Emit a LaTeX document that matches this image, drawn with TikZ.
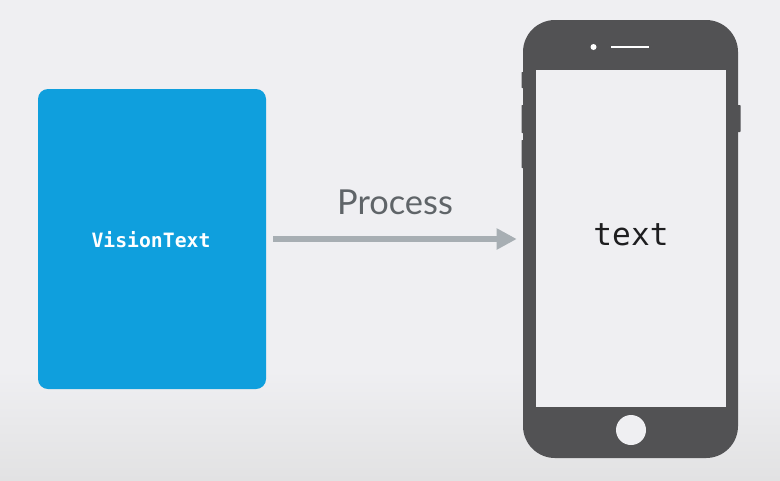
\documentclass[tikz,border=0pt]{standalone}
\usepackage{fontspec}
\setmainfont{Lato}
\newfontfamily\monofam{DejaVu Sans Mono}
\usetikzlibrary{arrows.meta}
\definecolor{bgc}{HTML}{EFEFF2}
\definecolor{bgb}{HTML}{E2E2E3}
\definecolor{cardc}{HTML}{0F9FDD}
\definecolor{phonec}{HTML}{525254}
\definecolor{arrowc}{HTML}{A7AEB3}
\definecolor{procc}{HTML}{5F6468}
\definecolor{textc}{HTML}{1E1E20}
\tikzset{
  card/.style={fill=cardc,draw=none,rounded corners=7.5pt,minimum width=171pt,minimum height=225pt,inner sep=0pt},
  phonebody/.style={fill=phonec,draw=none,rounded corners=24pt,minimum width=161.25pt,minimum height=328.5pt,inner sep=0pt},
  screen/.style={fill=bgc,draw=none,minimum width=142.5pt,minimum height=252.75pt,inner sep=0pt},
  sidebtn/.style={fill=phonec,draw=none,rounded corners=0.5pt,minimum width=3pt,inner sep=0pt},
  roundbit/.style={circle,fill=bgc,draw=none,inner sep=0pt},
  speakerbar/.style={fill=white,draw=none,minimum width=28.5pt,minimum height=2.2pt,inner sep=0pt},
  flow/.style={draw=arrowc,line width=4.5pt,-{Triangle[length=15pt,width=15pt]}}
}
\begin{document}
\begin{tikzpicture}[x=0.75pt,y=-0.75pt]
\useasboundingbox (0,0) rectangle (780,480);
\fill[bgc] (0,0) rectangle (780,370);
\shade[top color=bgc,bottom color=bgb] (0,370) rectangle (780,480);
% side buttons
\node[sidebtn,minimum height=12pt] (b1) at (523.5,80) {};
\node[sidebtn,minimum height=21pt] (b2) at (523.5,119) {};
\node[sidebtn,minimum height=21pt] (b3) at (523.5,154) {};
\node[sidebtn,minimum height=20.25pt] (b4) at (738.5,118.5) {};
% phone
\node[phonebody] (phone) at (630.5,239) {};
\node[screen] (scr) at (631,238.5) {};
\node[roundbit,minimum size=22.5pt] (home) at (631,430) {};
\node[circle,fill=white,draw=none,inner sep=0pt,minimum size=4.5pt] (cam) at (593.5,47) {};
\node[speakerbar] (spk) at (630,47) {};
% card
\node[card] (cardn) at (152,239) {};
\node[text=white,font=\monofam\bfseries\fontsize{14.8pt}{16pt}\selectfont] (vt) at (151,240) {VisionText};
\node[text=textc,font=\monofam\fontsize{23.4pt}{26pt}\selectfont] (tx) at (631,235) {text};
% connector
\draw[flow,shorten <=5.25pt,shorten >=4.5pt] (cardn.east) -- (phone.west);
\node[text=procc,font=\fontsize{25.8pt}{28pt}\selectfont] (proc) at (395,202) {Process};
\end{tikzpicture}
\end{document}
